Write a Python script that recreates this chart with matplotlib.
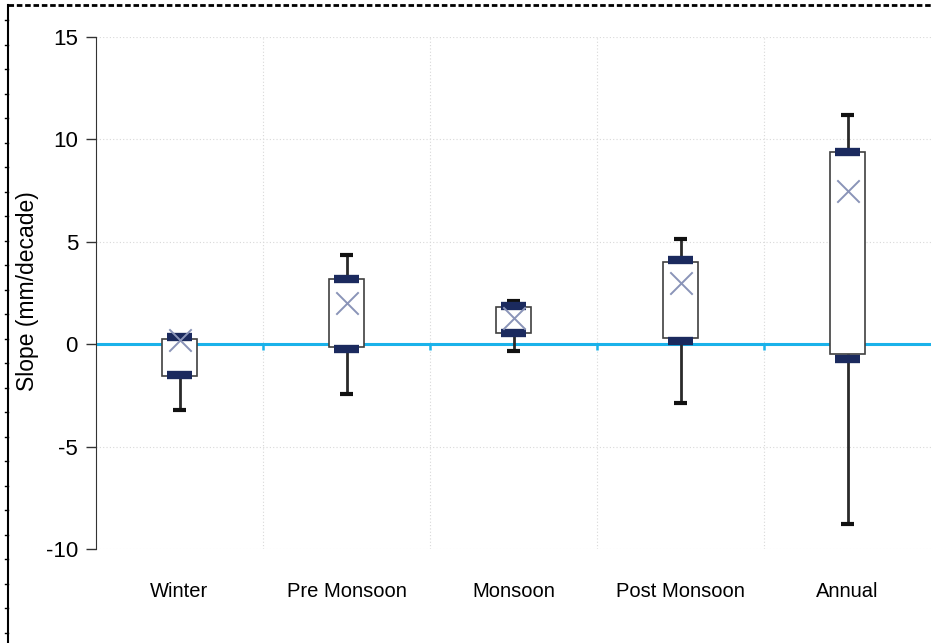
import matplotlib.pyplot as plt
from matplotlib.lines import Line2D
import numpy as np

categories = ["Winter", "Pre Monsoon", "Monsoon", "Post Monsoon", "Annual"]
whisker_lo = [-3.2, -2.45, -0.35, -2.85, -8.8]
box_lo = [-1.55, -0.15, 0.55, 0.3, -0.5]
box_hi = [0.25, 3.2, 1.8, 4.0, 9.4]
whisker_hi = [0.4, 4.35, 2.1, 5.15, 11.2]
bar_lo = [-1.5, -0.25, 0.55, 0.15, -0.7]
bar_hi = [0.35, 3.2, 1.85, 4.1, 9.4]
means = [0.2, 2.0, 1.3, 3.0, 7.5]
yticks = [-10, -5, 0, 5, 10, 15]

plt.rcParams['font.family'] = ['Liberation Sans', 'DejaVu Sans']

fig = plt.figure(figsize=(9.31, 6.43), dpi=100)
ax = fig.add_axes([96 / 931, 1 - 549 / 643, 1 - 96 / 931, (549 - 37) / 643])

x = np.arange(1, len(categories) + 1)
lo = np.array(box_lo)
hi = np.array(box_hi)

# grid
for b in np.arange(1.5, len(categories) + 0.5):
    ax.axvline(b, color="#d8d8d8", lw=0.8, ls=(0, (1, 2)), zorder=0)
for t in yticks:
    if t != 0:
        ax.axhline(t, color="#d8d8d8", lw=0.8, ls=(0, (1, 2)), zorder=0)

# zero axis in cyan with small ticks at category boundaries
ax.axhline(0, color="#1ab2ea", lw=2.2, zorder=2)
bounds = np.arange(1.5, len(categories) + 0.5)
ax.vlines(bounds, -0.3, 0, color="#1ab2ea", lw=1.8, zorder=2)

# whiskers
ax.vlines(x, whisker_lo, lo, color="#2a2a2a", lw=2, zorder=3)
ax.vlines(x, hi, whisker_hi, color="#2a2a2a", lw=2, zorder=3)
ax.hlines(whisker_lo, x - 0.04, x + 0.04, color="#111111", lw=3, zorder=3)
ax.hlines(whisker_hi, x - 0.04, x + 0.04, color="#111111", lw=3, zorder=3)

# boxes
ax.bar(x, hi - lo, bottom=lo, width=0.21, color="white",
       edgecolor="#404040", lw=1.2, zorder=4)

# dark quartile bars
ax.hlines(bar_lo, x - 0.075, x + 0.075, color="#1b2a5e", lw=6, zorder=5)
ax.hlines(bar_hi, x - 0.075, x + 0.075, color="#1b2a5e", lw=6, zorder=5)

# means
ax.scatter(x, means, marker="x", s=260, color="#8a94b8", linewidths=1.4, zorder=6)

ax.set_xlim(0.5, len(categories) + 0.5)
ax.set_ylim(-10, 15)
ax.set_yticks(yticks)
ax.set_yticklabels([str(t) for t in yticks], fontsize=16)
ax.tick_params(axis="y", length=7, width=1, color="#333333", pad=6)
ax.set_xticks(x)
ax.set_xticklabels(categories, fontsize=14.5)
ax.tick_params(axis="x", length=0, pad=24)
for s in ["top", "right", "bottom"]:
    ax.spines[s].set_visible(False)
ax.spines["left"].set_color("#333333")
ax.set_ylabel("Slope (mm/decade)", fontsize=16.5)
ax.yaxis.set_label_coords(-0.068, 0.504)
ax.patch.set_alpha(0)

# page frame with ruler marks
fx = 8 / 931
fig.add_artist(Line2D([fx, fx], [0, 1 - 5 / 643], color="black", lw=1.5))
fig.add_artist(Line2D([fx, 1], [1 - 5 / 643, 1 - 5 / 643], color="black", lw=2, ls=(0, (2, 1))))
for py in np.arange(20, 643, 24.5):
    fig.add_artist(Line2D([fx - 3 / 931, fx], [1 - py / 643, 1 - py / 643], color="black", lw=1))

fig.savefig("out.png", dpi=100)
